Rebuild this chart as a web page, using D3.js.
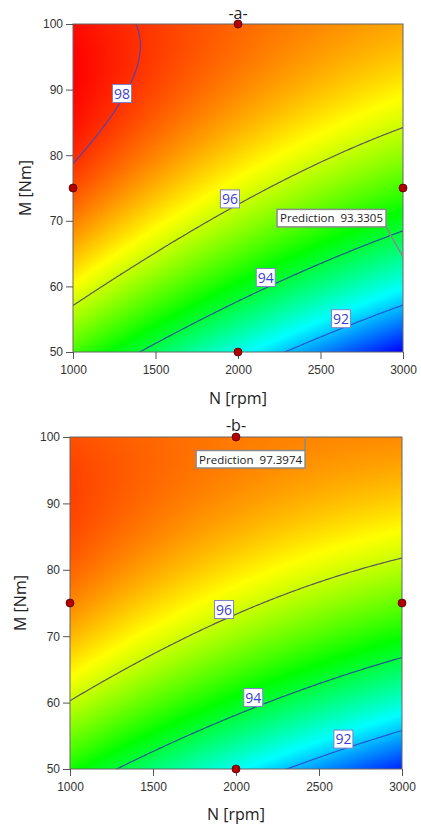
<!DOCTYPE html>
<html>
<head>
<meta charset="utf-8">
<script src="https://cdn.jsdelivr.net/npm/d3@7"></script>
<style>
  html, body { margin: 0; padding: 0; background: #ffffff; }
  svg { display: block; }
</style>
</head>
<body>
<svg id="chart" width="421" height="827"></svg>
<script>
// ---- data ----
const panelTitles = ["-a-", "-b-"];
const nTicks = [1000, 1500, 2000, 2500, 3000];
const mTicks = [50, 60, 70, 80, 90, 100];
const nDomain = [1000, 3000];
const mDomain = [50, 100];
const contourLevels = [92, 94, 96, 98];

// Quadratic response-surface models in coded factors
// A = (N - 2000) / 1000, B = (M - 75) / 25
// coefficients: [intercept, A, B, AB, A^2, B^2]
const modelA = [96.26, -1.42, 2.48, 0.82, 0.10, -1.15];
const modelB = [96.17, -1.07, 2.43, 0.84, 0.10, -1.165];

// design points (face-centred runs)
const designN = [1000, 2000, 3000, 2000];
const designM = [75, 100, 75, 50];

// prediction flags
const predictN = [3000, 2416];
const predictM = [64.5, 100];
const predictValue = ["93.3305", "97.3974"];

// N position of each contour label (levels 92, 94, 96, 98)
const labelNA = [2624, 2168, 1951, 1297];
const labelNB = [2647, 2104, 1928, null];

// ---- layout and style ----
const models = [modelA, modelB];
const labelNs = [labelNA, labelNB];
const layout = [
  { left: 73, right: 403, top: 24, bottom: 352, titleY: 19, xTitleY: 404, yTitleX: 25.5,
    flagDx: -17, flagDy: -30, flagAnchor: "bottom" },
  { left: 70, right: 402, top: 437, bottom: 769, titleY: 431, xTitleY: 820, yTitleX: 20.5,
    flagDx: 0, flagDy: 13.5, flagAnchor: "top" }
];
const lineColor = { 92: "#2757d2", 94: "#24578c", 96: "#5a5a5a", 98: "#5740ae" };
const labelLift = { 92: 10, 94: 10.5, 96: 10, 98: 6 };
const rampColors = ["#0000ff", "#00ffff", "#00ff00", "#ffff00", "#ff0000"];
const tickFont = "'Liberation Sans', Arial, sans-serif";
const textFont = "'Open Sans', 'Noto Sans', sans-serif";

function predict(c, n, m) {
  const a = (n - 2000) / 1000, b = (m - 75) / 25;
  return c[0] + c[1] * a + c[2] * b + c[3] * a * b + c[4] * a * a + c[5] * b * b;
}

// M on a contour level for a given N (root of the quadratic in B inside the design space)
function contourM(c, n, level) {
  const a = (n - 2000) / 1000;
  const qa = c[5], qb = c[2] + c[3] * a, qc = c[0] + c[1] * a + c[4] * a * a - level;
  const d = Math.sqrt(Math.max(0, qb * qb - 4 * qa * qc));
  const roots = [(-qb + d) / (2 * qa), (-qb - d) / (2 * qa)].filter(r => r >= -1.05 && r <= 1.05);
  return roots.length ? 75 + 25 * roots[0] : null;
}

const svg = d3.select("#chart");

// evaluate both surfaces on the pixel grid first, so one colour ramp serves both panels
const surfaces = layout.map((L, p) => {
  const x = d3.scaleLinear().domain(nDomain).range([L.left, L.right]);
  const y = d3.scaleLinear().domain(mDomain).range([L.bottom, L.top]);
  const W = Math.round(L.right - L.left), H = Math.round(L.bottom - L.top);
  const vals = new Float64Array(W * H);
  for (let j = 0; j < H; j++)
    for (let i = 0; i < W; i++)
      vals[j * W + i] = predict(models[p], x.invert(L.left + i + 0.5), y.invert(L.top + j + 0.5));
  return { x, y, W, H, vals };
});
const lo = d3.min(surfaces, s => d3.min(s.vals));
const hi = d3.max(surfaces, s => d3.max(s.vals));
const span = hi - lo;
const color = d3.scaleLinear()
  .domain([lo, lo + span * 0.25, lo + span * 0.5, lo + span * 0.75, hi])
  .range(rampColors)
  .interpolate(d3.interpolateRgb)
  .clamp(true);

layout.forEach((L, p) => {
  const coef = models[p];
  const { x, y, W, H, vals } = surfaces[p];
  const g = svg.append("g");

  // ---- colour-filled surface ----
  const canvas = document.createElement("canvas");
  canvas.width = W; canvas.height = H;
  const ctx = canvas.getContext("2d");
  const img = ctx.createImageData(W, H);
  for (let k = 0; k < W * H; k++) {
    const c = d3.rgb(color(vals[k]));
    img.data[4 * k] = c.r; img.data[4 * k + 1] = c.g; img.data[4 * k + 2] = c.b; img.data[4 * k + 3] = 255;
  }
  ctx.putImageData(img, 0, 0);
  g.append("image")
    .attr("x", L.left).attr("y", L.top)
    .attr("width", W).attr("height", H)
    .attr("preserveAspectRatio", "none")
    .attr("href", canvas.toDataURL());

  // ---- contour lines (grid extends past the frame, edges are clipped away) ----
  const clipId = "clip" + p;
  svg.append("clipPath").attr("id", clipId)
    .append("rect").attr("x", L.left).attr("y", L.top).attr("width", W).attr("height", H);
  const n0 = 900, dn = 10, nx = 221, m0 = 105, dm = 0.25, ny = 241;
  const grid = new Float64Array(nx * ny);
  for (let j = 0; j < ny; j++) for (let i = 0; i < nx; i++) grid[j * nx + i] = predict(coef, n0 + i * dn, m0 - j * dm);
  const contours = d3.contours().size([nx, ny]).thresholds(contourLevels)(grid);
  const proj = d3.geoTransform({
    point: function (gx, gy) { this.stream.point(x(n0 + (gx - 0.5) * dn), y(m0 - (gy - 0.5) * dm)); }
  });
  const path = d3.geoPath(proj);
  g.append("g").attr("clip-path", `url(#${clipId})`)
    .selectAll("path").data(contours).join("path")
    .attr("d", path)
    .attr("fill", "none")
    .attr("stroke", d => lineColor[d.value])
    .attr("stroke-width", 1.2);

  // ---- frame and axes ----
  g.append("rect")
    .attr("x", L.left).attr("y", L.top).attr("width", W).attr("height", H)
    .attr("fill", "none").attr("stroke", "#666").attr("stroke-width", 1);

  const yAxis = g.append("g").attr("transform", `translate(${L.left},0)`)
    .call(d3.axisLeft(y).tickValues(mTicks).tickSize(7).tickPadding(3).tickFormat(d3.format("d")));
  const xAxis = g.append("g").attr("transform", `translate(0,${L.bottom})`)
    .call(d3.axisBottom(x).tickValues(nTicks).tickSize(7).tickPadding(6).tickFormat(d3.format("d")));
  [xAxis, yAxis].forEach(ax => {
    ax.select(".domain").remove();
    ax.selectAll(".tick line").attr("stroke", "#555");
    ax.selectAll(".tick text").attr("fill", "#333").style("font-family", tickFont).style("font-size", "12px");
  });

  // ---- contour labels ----
  contourLevels.forEach((lev, k) => {
    const ln = labelNs[p][k];
    if (ln == null) return;
    const lm = contourM(coef, ln, lev);
    if (lm == null) return;
    const cx = x(ln), cy = y(lm) - labelLift[lev];
    const lg = g.append("g");
    lg.append("rect")
      .attr("x", cx - 9.5).attr("y", cy - 9).attr("width", 19).attr("height", 18)
      .attr("fill", "#ffffff").attr("stroke", "#8080c8").attr("stroke-width", 1);
    lg.append("text")
      .attr("x", cx).attr("y", cy + 5)
      .attr("text-anchor", "middle")
      .style("font-family", textFont).style("font-size", "14px")
      .attr("fill", "#3d3dd0")
      .text(lev);
  });

  // ---- design points ----
  g.selectAll("circle.design").data(designN.map((n, i) => [n, designM[i]])).join("circle")
    .attr("class", "design")
    .attr("cx", d => x(d[0])).attr("cy", d => y(d[1])).attr("r", 4)
    .attr("fill", "#b00000").attr("stroke", "#5a0000").attr("stroke-width", 0.8);

  // ---- prediction flag ----
  const px = x(predictN[p]), py = y(predictM[p]);
  const fg = g.append("g");
  const ft = fg.append("text")
    .attr("xml:space", "preserve").style("white-space", "pre")
    .style("font-family", textFont).style("font-size", "11.5px")
    .attr("fill", "#222")
    .text("Prediction  " + predictValue[p]);
  const tw = ft.node().getComputedTextLength();
  const bw = tw + 6, bh = 17.5;
  const bx1 = px + L.flagDx;            // right edge of the box
  const by = L.flagAnchor === "bottom" ? py + L.flagDy - bh : py + L.flagDy;
  const cornerY = L.flagAnchor === "bottom" ? by + bh : by;
  fg.insert("line", "text")
    .attr("x1", px).attr("y1", py).attr("x2", bx1).attr("y2", cornerY)
    .attr("stroke", "#8a8a8a").attr("stroke-width", 1.5);
  fg.insert("rect", "text")
    .attr("x", bx1 - bw).attr("y", by).attr("width", bw).attr("height", bh)
    .attr("fill", "#ffffff").attr("stroke", "#8a8a8a").attr("stroke-width", 1.5);
  ft.attr("x", bx1 - bw + 3).attr("y", by + 13);

  // ---- titles ----
  const midX = (L.left + L.right) / 2, midY = (L.top + L.bottom) / 2;
  g.append("text").attr("x", midX).attr("y", L.titleY).attr("text-anchor", "middle")
    .style("font-family", textFont).style("font-size", "16px").attr("fill", "#222")
    .text(panelTitles[p]);
  g.append("text").attr("x", midX).attr("y", L.xTitleY).attr("text-anchor", "middle")
    .style("font-family", textFont).style("font-size", "16px").attr("fill", "#222")
    .text("N [rpm]");
  g.append("text")
    .attr("transform", `translate(${L.yTitleX},${midY}) rotate(-90)`)
    .attr("text-anchor", "middle").attr("dy", "0.35em")
    .style("font-family", textFont).style("font-size", "16px").attr("fill", "#222")
    .text("M [Nm]");
});
</script>
</body>
</html>
